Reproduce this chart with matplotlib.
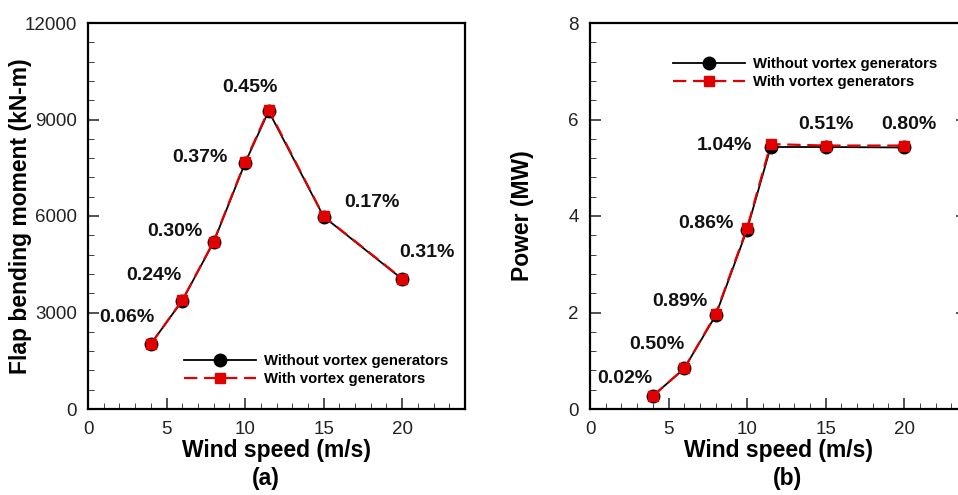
import numpy as np
import matplotlib
matplotlib.use("Agg")
import matplotlib.pyplot as plt
from matplotlib.ticker import MultipleLocator

plt.rcParams['font.family'] = ['Liberation Sans', 'DejaVu Sans']

# wind speed (m/s)
wind = [4, 6, 8, 10, 11.5, 15, 20]

# flap bending moment (kN-m)
moment_base = [2020, 3370, 5190, 7650, 9260, 5980, 4040]
moment_vg = [2021, 3378, 5206, 7678, 9302, 5990, 4053]
moment_pct = ['0.06%', '0.24%', '0.30%', '0.37%', '0.45%', '0.17%', '0.31%']
moment_lbl_xy = [(2.5, 2830), (4.2, 4135), (5.5, 5530), (7.1, 7830),
                 (10.3, 10010), (18.1, 6430), (21.6, 4880)]

# power (MW)
power_base = [0.27, 0.84, 1.94, 3.72, 5.43, 5.43, 5.42]
power_vg = [0.27, 0.84, 1.96, 3.75, 5.49, 5.46, 5.46]
power_pct = ['0.02%', '0.50%', '0.89%', '0.86%', '1.04%', '0.51%', '0.80%']
power_lbl_xy = [(2.2, 0.64), (4.25, 1.33), (5.7, 2.22), (7.35, 3.85),
                (8.55, 5.47), (15.0, 5.89), (20.3, 5.89)]

W, H = 958, 495
fig = plt.figure(figsize=(W / 100, H / 100), dpi=100)

ax_w = 377 / W
ax_h = 386 / H
ax1 = fig.add_axes([88 / W, 86 / H, ax_w, ax_h])
ax2 = fig.add_axes([590 / W, 86 / H, ax_w, ax_h])


def draw_panel(ax, base, vg, pcts, lbl_xy, ylim, ymaj, ymin, ylabel, tag, tag_x, leg_anchor):
    ax.plot(wind, base, '-', color='black', lw=1.3, marker='o', ms=9,
            mfc='black', mec='black', label='Without vortex generators', zorder=3)
    ax.plot(wind, vg, '--', color='#e00000', lw=1.6, dashes=(6, 3), marker='s', ms=7,
            mfc='#e00000', mec='#e00000', label='With vortex generators', zorder=4)
    for txt, (tx, ty) in zip(pcts, lbl_xy):
        ax.text(tx, ty, txt, ha='center', va='center', fontsize=14,
                fontweight='bold', color='#111111')
    ax.set_xlim(0, 24)
    ax.set_ylim(*ylim)
    ax.xaxis.set_major_locator(MultipleLocator(5))
    ax.xaxis.set_minor_locator(MultipleLocator(1))
    ax.yaxis.set_major_locator(MultipleLocator(ymaj))
    ax.yaxis.set_minor_locator(MultipleLocator(ymin))
    ax.tick_params(which='both', direction='in', labelsize=13.5, colors='#222222')
    ax.tick_params(axis='x', which='major', length=8, width=1.1, pad=9)
    ax.tick_params(axis='y', which='major', length=8, width=1.1, pad=8)
    ax.tick_params(which='minor', length=4, width=0.6)
    for sp in ax.spines.values():
        sp.set_linewidth(1.6)
    ax.set_xlabel('Wind speed (m/s)', fontsize=16.5, fontweight='bold', labelpad=0)
    ax.set_ylabel(ylabel, fontsize=16.5, fontweight='bold')
    ax.yaxis.set_label_coords(-56 / 377, 0.5)
    ax.text(tag_x, -0.18, tag, transform=ax.transAxes, ha='center', va='center',
            fontsize=16.5, fontweight='bold')
    leg = ax.legend(loc='upper left', bbox_to_anchor=leg_anchor, frameon=False,
                    prop={'weight': 'bold', 'size': 10.7}, handlelength=4.8,
                    handletextpad=0.55, labelspacing=0.3, borderaxespad=0)
    return leg


draw_panel(ax1, moment_base, moment_vg, moment_pct, moment_lbl_xy, (0, 12000),
           3000, 600, 'Flap bending moment (kN-m)', '(a)', 0.472, (0.24, 0.158))
draw_panel(ax2, power_base, power_vg, power_pct, power_lbl_xy, (0, 8),
           2, 0.4, 'Power (MW)', '(b)', 0.523, (0.205, 0.928))
ax2.tick_params(which='both', right=True)

fig.savefig('out.png', dpi=100)
